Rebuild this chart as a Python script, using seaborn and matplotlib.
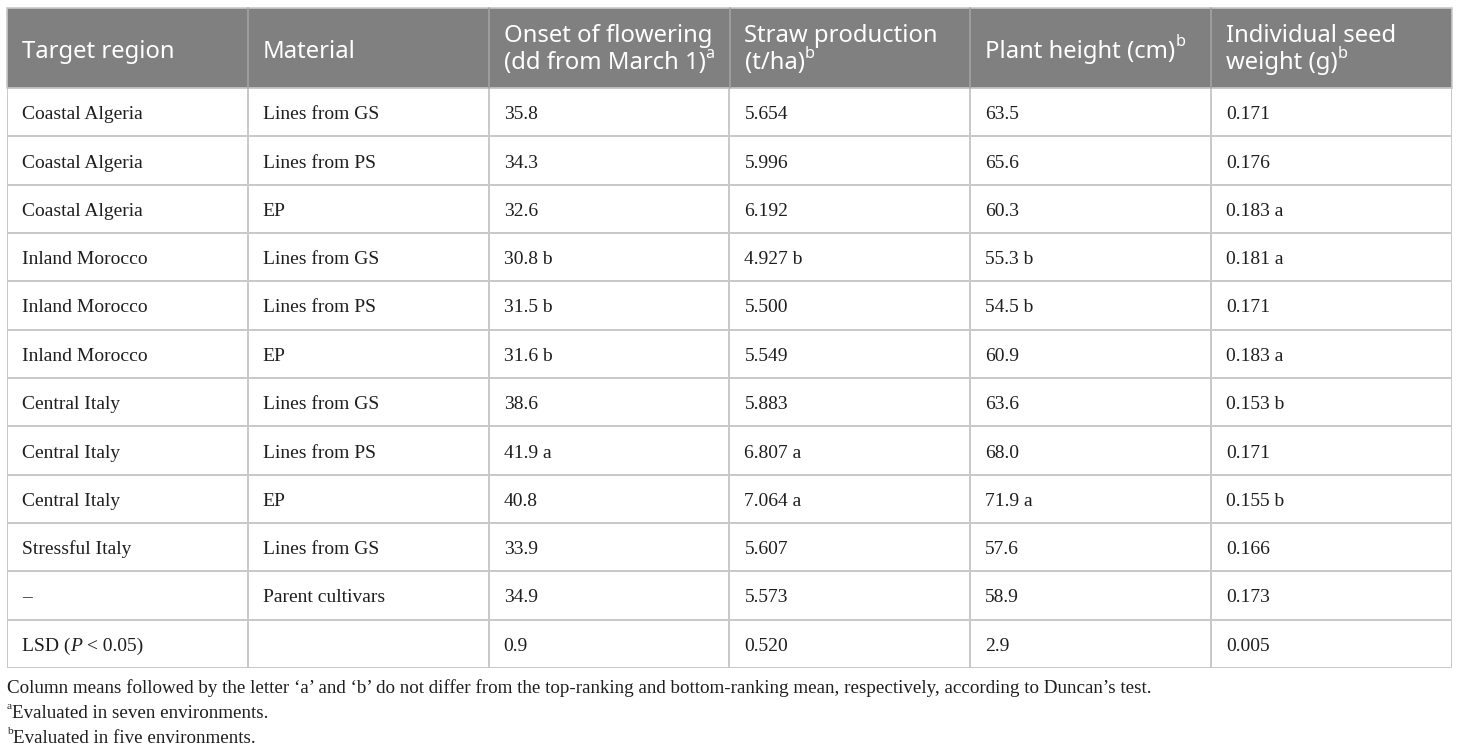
import numpy as np
import matplotlib
matplotlib.use("Agg")
import matplotlib.pyplot as plt
from matplotlib.colors import ListedColormap
import seaborn as sns

# Table content
regions = ["Coastal Algeria", "Coastal Algeria", "Coastal Algeria",
           "Inland Morocco", "Inland Morocco", "Inland Morocco",
           "Central Italy", "Central Italy", "Central Italy",
           "Stressful Italy", "\u2013", "LSD"]
materials = ["Lines from GS", "Lines from PS", "EP",
             "Lines from GS", "Lines from PS", "EP",
             "Lines from GS", "Lines from PS", "EP",
             "Lines from GS", "Parent cultivars", ""]
flowering = ["35.8", "34.3", "32.6", "30.8 b", "31.5 b", "31.6 b",
             "38.6", "41.9 a", "40.8", "33.9", "34.9", "0.9"]
straw = ["5.654", "5.996", "6.192", "4.927 b", "5.500", "5.549",
         "5.883", "6.807 a", "7.064 a", "5.607", "5.573", "0.520"]
height = ["63.5", "65.6", "60.3", "55.3 b", "54.5 b", "60.9",
          "63.6", "68.0", "71.9 a", "57.6", "58.9", "2.9"]
seed = ["0.171", "0.176", "0.183 a", "0.181 a", "0.171", "0.183 a",
        "0.153 b", "0.171", "0.155 b", "0.166", "0.173", "0.005"]

# header: list of lines, each line a list of (text, superscript?)
headers = [
    [[("Target region", False)]],
    [[("Material", False)]],
    [[("Onset of flowering", False)], [("(dd from March 1)", False), ("a", True)]],
    [[("Straw production", False)], [("(t/ha)", False), ("b", True)]],
    [[("Plant height (cm)", False), ("b", True)]],
    [[("Individual seed", False)], [("weight (g)", False), ("b", True)]],
]

footnotes = [
    [("Column means followed by the letter \u2018a\u2019 and \u2018b\u2019 do not differ from the "
      "top-ranking and bottom-ranking mean, respectively, according to Duncan\u2019s test.", False)],
    [("a", True), ("Evaluated in seven environments.", False)],
    [("b", True), ("Evaluated in five environments.", False)],
]

W, H = 1460, 750
left, right, top, head_bot, bottom = 7, 1452, 8, 88, 668
ncol, nrow = 6, len(regions)
col_w = (right - left) / ncol
row_h = (bottom - head_bot) / nrow

sns.set_theme(style="white")
serif = ["Liberation Serif", "DejaVu Serif"]
sans = ["Noto Sans", "DejaVu Sans"]
grid_col = "#c9c9c9"
txt_col = "#1e1e1e"
head_fs, body_fs, note_fs = 17.2, 14.0, 13.7

fig = plt.figure(figsize=(W / 100, H / 100), dpi=100)

# body grid as a plain white heatmap
ax_body = fig.add_axes([left / W, (H - bottom) / H, (right - left) / W, (bottom - head_bot) / H])
sns.heatmap(np.zeros((nrow, ncol)), cmap=ListedColormap(["white"]), cbar=False,
            linewidths=1.2, linecolor=grid_col, xticklabels=False, yticklabels=False,
            ax=ax_body)
for s in ax_body.spines.values():
    s.set_visible(False)

# overlay axes in pixel coordinates
ax = fig.add_axes([0, 0, 1, 1], facecolor="none")
ax.set_xlim(0, W)
ax.set_ylim(H, 0)
ax.axis("off")

renderer = fig.canvas.get_renderer()


def put(x, y, parts, size, family, color, italic=False, sup_k=0.6, raise_px=9):
    # y is the baseline in pixels
    for s, sup in parts:
        fs = size * sup_k if sup else size
        yy = y - raise_px if sup else y
        t = ax.text(x, yy, s, fontsize=fs, family=family, color=color,
                    style="italic" if italic else "normal", va="baseline", ha="left")
        x += t.get_window_extent(renderer=renderer).width
    return x


# header band
ax.add_patch(plt.Rectangle((left, top), right - left, head_bot - top,
                           facecolor="#7f807f", edgecolor=grid_col, lw=1.2))
for j in range(1, ncol):
    xj = left + j * col_w
    ax.plot([xj, xj], [top, head_bot], color="#a2a2a2", lw=1.2)

for j, lines in enumerate(headers):
    x0 = left + j * col_w + 15
    if len(lines) == 1:
        put(x0, 57.5, lines[0], head_fs, sans, "white", sup_k=0.68, raise_px=11)
    else:
        put(x0, 41.5, lines[0], head_fs, sans, "white")
        put(x0, 69, lines[1], head_fs, sans, "white", sup_k=0.68, raise_px=11)

# body text
columns = [regions, materials, flowering, straw, height, seed]
for i in range(nrow):
    yb = head_bot + (i + 0.5) * row_h + 7
    for j, col in enumerate(columns):
        x0 = left + j * col_w + 15
        val = col[i]
        if j == 0 and val == "LSD":
            xx = put(x0, yb, [("LSD (", False)], body_fs, serif, txt_col)
            xx = put(xx, yb, [("P", False)], body_fs, serif, txt_col, italic=True)
            put(xx, yb, [(" < 0.05)", False)], body_fs, serif, txt_col)
        elif val:
            put(x0, yb, [(val, False)], body_fs, serif, txt_col)

# footnotes
for k, parts in enumerate(footnotes):
    put(left, 693 + k * 24.8, parts, note_fs, serif, txt_col)

fig.savefig("out.png", dpi=100, facecolor="white")
